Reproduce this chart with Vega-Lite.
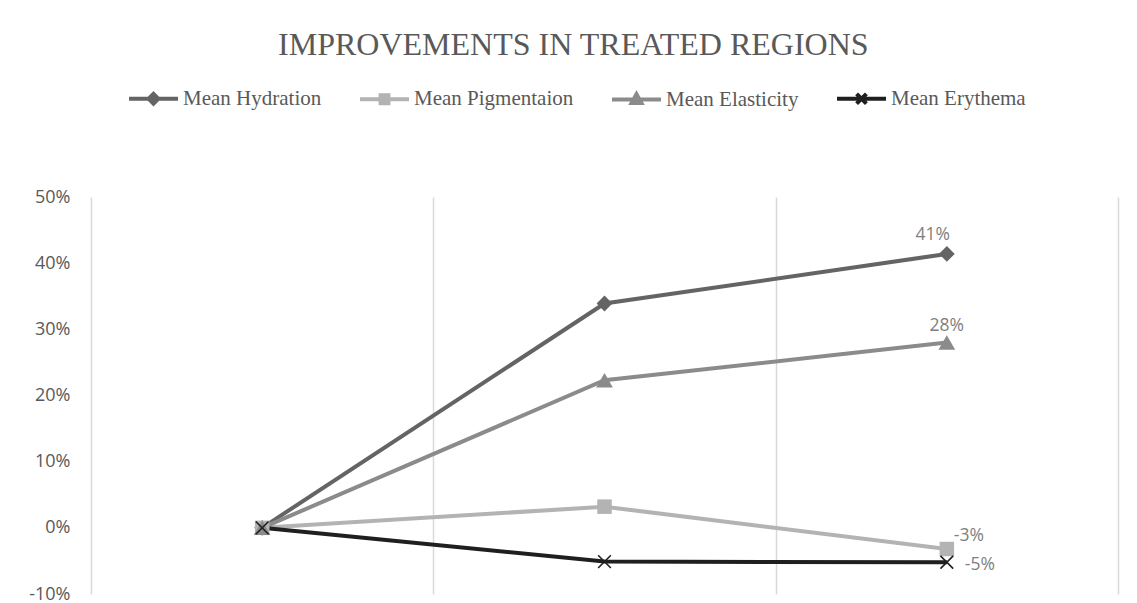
{
  "$schema": "https://vega.github.io/schema/vega-lite/v6.json",
  "width": 1137,
  "height": 603,
  "autosize": {"type": "fit", "contains": "padding"},
  "padding": {"left": 28, "right": 19, "top": 29, "bottom": 0},
  "background": "white",
  "title": {
    "text": "IMPROVEMENTS IN TREATED REGIONS",
    "font": "Liberation Serif",
    "fontSize": 32,
    "fontWeight": "normal",
    "color": "#595959",
    "anchor": "middle",
    "frame": "bounds",
    "offset": -26
  },
  "data": {
    "values": [
      {"series": "Mean Hydration", "stage": "Baseline", "value": 0},
      {"series": "Mean Hydration", "stage": "Midpoint", "value": 0.339},
      {"series": "Mean Hydration", "stage": "Endpoint", "value": 0.414},
      {"series": "Mean Pigmentaion", "stage": "Baseline", "value": 0},
      {"series": "Mean Pigmentaion", "stage": "Midpoint", "value": 0.032},
      {"series": "Mean Pigmentaion", "stage": "Endpoint", "value": -0.032},
      {"series": "Mean Elasticity", "stage": "Baseline", "value": 0},
      {"series": "Mean Elasticity", "stage": "Midpoint", "value": 0.223},
      {"series": "Mean Elasticity", "stage": "Endpoint", "value": 0.28},
      {"series": "Mean Erythema", "stage": "Baseline", "value": 0},
      {"series": "Mean Erythema", "stage": "Midpoint", "value": -0.051},
      {"series": "Mean Erythema", "stage": "Endpoint", "value": -0.052}
    ]
  },
  "encoding": {
    "x": {
      "field": "stage",
      "type": "ordinal",
      "bandPosition": 0.5,
      "scale": {"type": "band", "domain": ["Baseline", "Midpoint", "Endpoint"], "paddingInner": 0, "paddingOuter": 0},
      "axis": {"title": null, "labels": false, "ticks": false, "domain": false, "grid": true, "gridColor": "#d9d9d9", "gridWidth": 1.5, "tickBand": "extent"}
    },
    "y": {
      "field": "value",
      "type": "quantitative",
      "scale": {"domain": [-0.1, 0.5], "nice": false, "zero": false},
      "axis": {"title": null, "format": ".0%", "values": [-0.1, 0, 0.1, 0.2, 0.3, 0.4, 0.5], "domain": false, "ticks": false, "grid": false, "labelPadding": 21, "labelFont": "Open Sans", "labelFontSize": 18, "labelColor": "#595959"}
    }
  },
  "layer": [
    {
      "mark": {"type": "line", "strokeWidth": 4},
      "encoding": {
        "color": {
          "field": "series",
          "type": "nominal",
          "scale": {"domain": ["Mean Hydration", "Mean Pigmentaion", "Mean Elasticity", "Mean Erythema"], "range": ["#646464", "#b3b3b3", "#8b8b8b", "#1f1f1f"]},
          "legend": {
            "title": null,
            "orient": "top",
            "direction": "horizontal",
            "columns": 4,
            "offset": 49,
            "padding": 36,
            "symbolSize": 2401,
            "symbolStrokeWidth": 4,
            "labelFont": "Liberation Serif",
            "labelFontSize": 21,
            "labelColor": "#595959",
            "labelOffset": 3,
            "labelLimit": 400,
            "columnPadding": 30,
            "encode": {
              "symbols": {
                "update": {
                  "shape": {"signal": "datum.value === 'Mean Hydration' ? 'M-1,0H1M0,-0.2L0.2,0L0,0.2L-0.2,0Z' : datum.value === 'Mean Pigmentaion' ? 'M-1,0H1M-0.16,-0.16H0.16V0.16H-0.16Z' : datum.value === 'Mean Elasticity' ? 'M-1,0H1M0,-0.22L0.2,0.14H-0.2Z' : 'M-1,0H1M-0.2,-0.2L0.2,0.2M0.2,-0.2L-0.2,0.2'"},
                  "fill": {"signal": "scale('color', datum.value)"},
                  "stroke": {"signal": "scale('color', datum.value)"},
                  "strokeWidth": {"value": 4}
                }
              }
            }
          }
        }
      }
    },
    {
      "transform": [{"filter": "datum.series === 'Mean Hydration'"}],
      "mark": {"type": "point", "shape": "diamond", "filled": true, "opacity": 1, "size": 250, "color": "#646464"}
    },
    {
      "transform": [{"filter": "datum.series === 'Mean Pigmentaion'"}],
      "mark": {"type": "point", "shape": "square", "filled": true, "opacity": 1, "size": 210, "color": "#b3b3b3"}
    },
    {
      "transform": [{"filter": "datum.series === 'Mean Elasticity'"}],
      "mark": {"type": "point", "shape": "triangle-up", "filled": true, "opacity": 1, "size": 280, "color": "#8b8b8b"}
    },
    {
      "transform": [{"filter": "datum.series === 'Mean Erythema'"}],
      "mark": {"type": "point", "shape": "M-0.9,-0.9L0.9,0.9M0.9,-0.9L-0.9,0.9", "filled": false, "opacity": 1, "size": 200, "strokeWidth": 1.6, "color": "#1f1f1f"}
    },
    {
      "transform": [{"filter": "datum.stage === 'Endpoint' && datum.series === 'Mean Hydration'"}],
      "mark": {"type": "text", "font": "Open Sans", "fontSize": 17.5, "color": "#7f7f7f", "align": "center", "baseline": "middle", "dx": -14, "dy": -19},
      "encoding": {"text": {"field": "value", "type": "quantitative", "format": ".0%"}}
    },
    {
      "transform": [{"filter": "datum.stage === 'Endpoint' && datum.series === 'Mean Elasticity'"}],
      "mark": {"type": "text", "font": "Open Sans", "fontSize": 17.5, "color": "#7f7f7f", "align": "center", "baseline": "middle", "dx": 0, "dy": -17},
      "encoding": {"text": {"field": "value", "type": "quantitative", "format": ".0%"}}
    },
    {
      "transform": [{"filter": "datum.stage === 'Endpoint' && datum.series === 'Mean Pigmentaion'"}],
      "mark": {"type": "text", "font": "Open Sans", "fontSize": 17.5, "color": "#7f7f7f", "align": "center", "baseline": "middle", "dx": 22, "dy": -13},
      "encoding": {"text": {"field": "value", "type": "quantitative", "format": ".0%"}}
    },
    {
      "transform": [{"filter": "datum.stage === 'Endpoint' && datum.series === 'Mean Erythema'"}],
      "mark": {"type": "text", "font": "Open Sans", "fontSize": 17.5, "color": "#7f7f7f", "align": "center", "baseline": "middle", "dx": 33, "dy": 3},
      "encoding": {"text": {"field": "value", "type": "quantitative", "format": ".0%"}}
    }
  ],
  "config": {
    "view": {"stroke": null},
    "locale": {"number": {"decimal": ".", "thousands": ",", "grouping": [3], "currency": ["$", ""], "minus": "-"}}
  }
}
